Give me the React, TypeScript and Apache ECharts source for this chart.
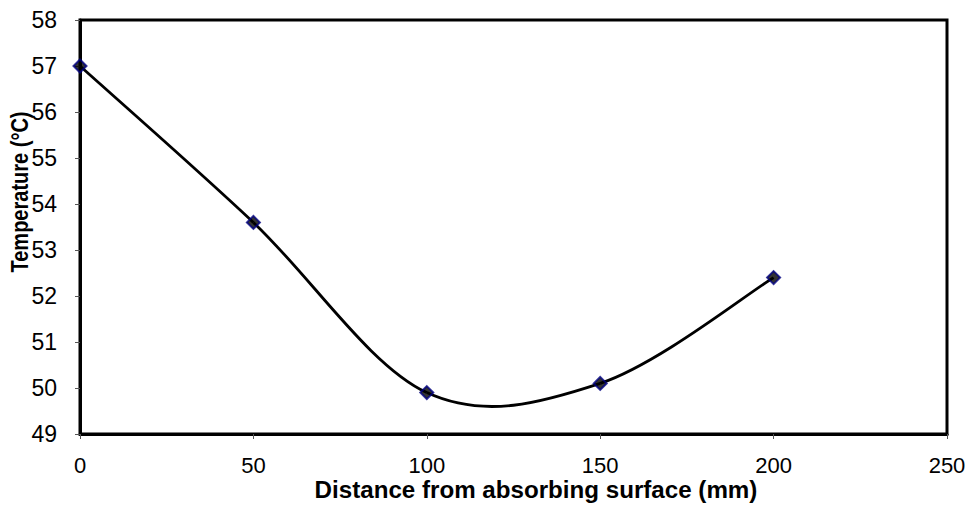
import React, { useEffect, useRef } from "react";
import * as echarts from "echarts";

const distances = [0, 50, 100, 150, 200];
const temperatures = [57, 53.6, 49.9, 50.1, 52.4];
const xTicks = { min: 0, max: 250, interval: 50 };
const yTicks = { min: 49, max: 58, interval: 1 };
const xTitle = "Distance from absorbing surface (mm)";
const yTitle = "Temperature (°C)";

const FONT = "'Liberation Sans', Arial, sans-serif";

export default function App() {
  const ref = useRef<HTMLDivElement>(null);
  useEffect(() => {
    if (!ref.current) return;
    const chart = echarts.init(ref.current, null, { renderer: "svg" });
    const points = distances.map((d, i) => [d, temperatures[i]]);
    const segData = points.slice(0, points.length - 1);

    const renderSegment = (params: any, api: any) => {
      const i = params.dataIndex;
      const n = points.length;
      const P = points.map((p) => api.coord(p));
      const p1 = P[i];
      const p2 = P[i + 1];
      const p0 = P[Math.max(i - 1, 0)];
      const p3 = P[Math.min(i + 2, n - 1)];
      const k = 1 / 6;
      return {
        type: "bezierCurve",
        shape: {
          x1: p1[0],
          y1: p1[1],
          x2: p2[0],
          y2: p2[1],
          cpx1: p1[0] + (p2[0] - p0[0]) * k,
          cpy1: p1[1] + (p2[1] - p0[1]) * k,
          cpx2: p2[0] - (p3[0] - p1[0]) * k,
          cpy2: p2[1] - (p3[1] - p1[1]) * k,
        },
        style: { stroke: "#000", lineWidth: 2.8, fill: null },
      };
    };

    chart.setOption({
      animation: false,
      backgroundColor: "#fff",
      grid: {
        left: 80,
        right: 23,
        top: 20,
        bottom: 86,
        show: true,
        borderColor: "#000",
        borderWidth: 3,
        backgroundColor: "transparent",
      },
      xAxis: {
        type: "value",
        min: xTicks.min,
        max: xTicks.max,
        interval: xTicks.interval,
        splitLine: { show: false },
        axisLine: { show: true, onZero: false, lineStyle: { color: "#000", width: 3 } },
        axisTick: { show: true, length: 5, lineStyle: { color: "#555", width: 1 } },
        axisLabel: {
          color: "#000",
          fontSize: 22,
          lineHeight: 18,
          fontFamily: FONT,
          margin: 22,
        },
      },
      yAxis: {
        type: "value",
        min: yTicks.min,
        max: yTicks.max,
        interval: yTicks.interval,
        splitLine: { show: false },
        axisLine: { show: true, onZero: false, lineStyle: { color: "#000", width: 3 } },
        axisTick: { show: true, length: 5, lineStyle: { color: "#555", width: 1 } },
        axisLabel: {
          color: "#000",
          fontSize: 23,
          lineHeight: 18,
          fontFamily: FONT,
          margin: 23,
        },
      },
      graphic: [
        {
          type: "text",
          x: 536,
          y: 490,
          scaleX: 1.05,
          style: {
            text: xTitle,
            fontSize: 23,
            lineHeight: 18,
            fontWeight: "bold",
            fontFamily: FONT,
            fill: "#000",
            textAlign: "center",
            textVerticalAlign: "middle",
          },
        },
        {
          type: "text",
          x: 20,
          y: 192,
          rotation: Math.PI / 2,
          scaleX: 0.87,
          style: {
            text: yTitle,
            fontSize: 23,
            lineHeight: 18,
            fontWeight: "bold",
            fontFamily: FONT,
            fill: "#000",
            textAlign: "center",
            textVerticalAlign: "middle",
          },
        },
      ],
      series: [
        {
          type: "custom",
          coordinateSystem: "cartesian2d",
          renderItem: renderSegment,
          data: segData,
          encode: { x: 0, y: 1 },
          z: 2,
          silent: true,
        },
        {
          type: "scatter",
          data: points,
          symbol: "diamond",
          symbolSize: 13,
          itemStyle: { color: "#000", borderColor: "#000080", borderWidth: 2 },
          z: 3,
        },
      ],
    });
    return () => chart.dispose();
  }, []);
  return (
    <div
      ref={ref}
      style={{ position: "fixed", left: 0, top: 0, width: 970, height: 520 }}
    />
  );
}
